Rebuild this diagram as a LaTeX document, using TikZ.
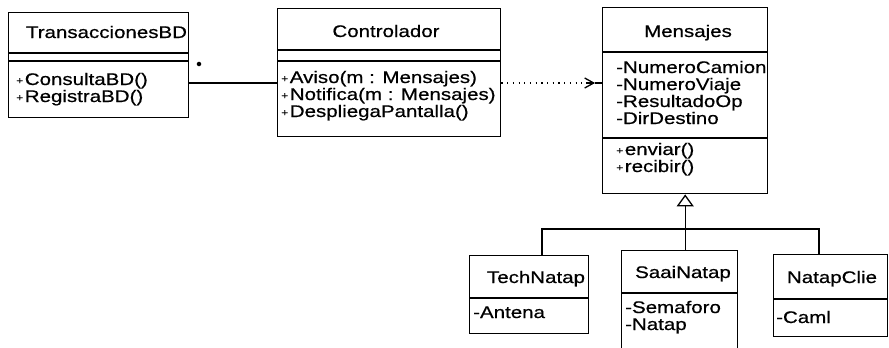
\documentclass[tikz,border=0pt]{standalone}
\usepackage{fontspec}
\setmainfont{Liberation Sans}[FakeStretch=1.22, FakeBold=0.6]
\usetikzlibrary{arrows.meta,calc}

% small visibility marker used in front of operations
\newcommand{\vispl}{{\fontsize{10}{10}\selectfont\raisebox{1pt}{+}}\kern1.5pt}

\begin{document}
\begin{tikzpicture}[x=1pt,y=-1pt,
  classbox/.style={draw, line width=1.4pt, inner sep=0pt, anchor=north west},
  sep/.style={line width=1.4pt},
  ttl/.style={inner sep=0pt, anchor=base, font=\fontsize{16.8}{17}\selectfont},
  mem/.style={inner sep=0pt, anchor=base west, font=\fontsize{16.8}{17}\selectfont},
  conn/.style={line width=1.4pt},
  dep/.style={line width=1.3pt, dash pattern=on 1.2pt off 4.5pt},
]
\useasboundingbox (0,0) rectangle (889,348);

% ---------- class boxes ----------
\node[classbox, minimum width=180pt, minimum height=105pt] (trans) at (8,12) {};
\node[classbox, minimum width=223pt, minimum height=128pt] (ctrl)  at (277,8) {};
\node[classbox, minimum width=165pt, minimum height=186pt] (mens)  at (602,7) {};
\node[classbox, minimum width=119pt, minimum height=78pt]  (tech)  at (469,255) {};
\node[classbox, minimum width=116pt, minimum height=112pt] (saai)  at (621,250) {};
\node[classbox, minimum width=114pt, minimum height=82pt]  (clie)  at (773,254) {};

% compartment separators
\foreach \b/\y in {trans/53, trans/61, ctrl/50, ctrl/61, mens/52, mens/138,
                   tech/298, saai/293, clie/299}
  \draw[sep] (\b.west |- 0,\y) -- (\b.east |- 0,\y);

% ---------- TransaccionesBD ----------
\node[ttl] (transT) at (106.5,38) {TransaccionesBD};
\node[mem] (transM1) at (16,85)  {\vispl ConsultaBD()};
\node[mem] (transM2) at (16,102) {\vispl RegistraBD()};

% ---------- Controlador ----------
\node[ttl] (ctrlT) at (386,37) {Controlador};
\node[mem] (ctrlM1) at (281,83)  {\vispl Aviso(m : Mensajes)};
\node[mem] (ctrlM2) at (281,100) {\vispl Notifica(m : Mensajes)};
\node[mem] (ctrlM3) at (281,117) {\vispl DespliegaPantalla()};

% ---------- Mensajes ----------
\node[ttl] (mensT) at (688,37) {Mensajes};
\node[mem] (mensA1) at (616,73)  {-NumeroCamion};
\node[mem] (mensA2) at (616,90)  {-NumeroViaje};
\node[mem] (mensA3) at (616,107) {-ResultadoOp};
\node[mem] (mensA4) at (616,124) {-DirDestino};
\node[mem] (mensM1) at (616,155) {\vispl enviar()};
\node[mem] (mensM2) at (616,172) {\vispl recibir()};

% ---------- subclasses ----------
\node[ttl] (techT) at (536,283) {TechNatap};
\node[mem] (techA1) at (473,318) {-Antena};

\node[ttl] (saaiT) at (683,278) {SaaiNatap};
\node[mem] (saaiA1) at (625,313) {-Semaforo};
\node[mem] (saaiA2) at (625,330) {-Natap};

\node[ttl] (clieT) at (832,283) {NatapClie};
\node[mem] (clieA1) at (776,323) {-Caml};

% ---------- association TransaccionesBD -- Controlador ----------
\coordinate (ya) at (0,83);
\draw[conn] (trans.east |- ya) -- (ctrl.west |- ya);
\node[circle, fill, inner sep=1.6pt] (mult) at (199,64) {};

% ---------- dependency Controlador ..> Mensajes ----------
\coordinate (deptip) at ($(mens.west |- ya)+(-7,0)$);
\draw[dep] (ctrl.east |- ya) -- (deptip);
\draw[line width=1.3pt, -{Straight Barb[length=9pt, width=10pt, line width=1.3pt]}]
  ($(deptip)+(-9,0)$) -- (deptip);
\draw[line width=2.4pt] (deptip) -- (mens.west |- ya);

% ---------- generalization ----------
\coordinate (busL) at (542,229);
\coordinate (busR) at (819,229);
\draw[conn] (tech.north -| busL) |- (busR) -- (clie.north -| busR);
\draw[conn] (mens.south |- saai.north) -- (mens.south |- busL);
\draw[line width=1.3pt, -{Triangle[open, length=12pt, width=17pt, line width=1.3pt]}]
  (mens.south |- busL) -- (mens.south);
\end{tikzpicture}
\end{document}
